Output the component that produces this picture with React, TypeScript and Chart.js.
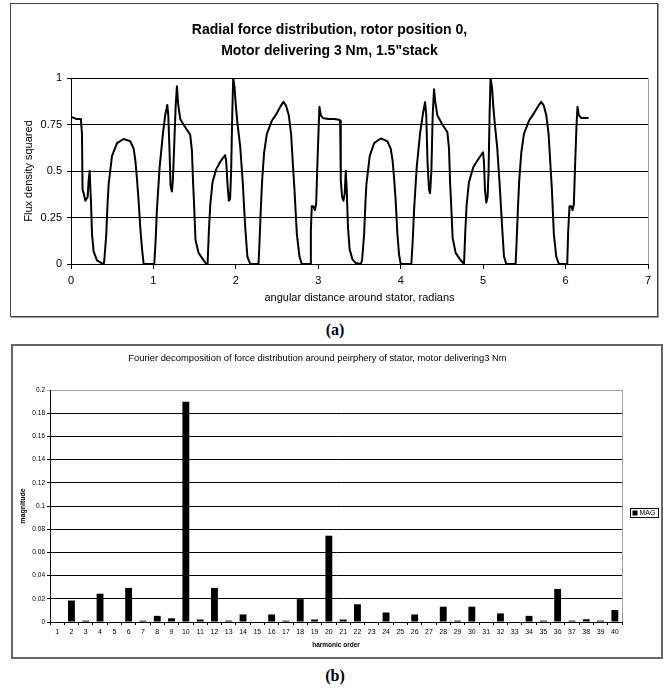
import React, { useEffect, useRef } from "react";
import { Chart, registerables } from "chart.js";

Chart.register(...registerables);

const FONT = "'Liberation Sans', Arial, sans-serif";

// ---- Chart (a): radial force distribution ----
const angle = [
  0, 0.04, 0.06, 0.12, 0.133, 0.14, 0.154, 0.174, 0.202, 0.214, 0.226, 0.242, 0.255, 0.275, 0.315, 0.376, 0.396,
  0.404, 0.428, 0.444, 0.457, 0.497, 0.558, 0.638, 0.719, 0.76, 0.78, 0.8, 0.82, 0.84, 0.86, 0.88, 0.889,
  1.01, 1.026, 1.042, 1.075, 1.115, 1.143, 1.168, 1.18, 1.196, 1.208, 1.224, 1.236, 1.253, 1.27, 1.285, 1.3,
  1.325, 1.386, 1.446, 1.467, 1.48, 1.495, 1.51, 1.547, 1.608, 1.64,
  1.657, 1.673, 1.69, 1.717, 1.762, 1.818, 1.87, 1.883, 1.9, 1.915, 1.93, 1.943, 1.956, 1.968, 1.984, 2.0,
  2.02, 2.053, 2.085, 2.113, 2.14, 2.174,
  2.275, 2.287, 2.303, 2.319, 2.343, 2.376, 2.436, 2.497, 2.545, 2.578, 2.61, 2.642, 2.67, 2.69, 2.711, 2.74,
  2.772, 2.8,
  2.9, 2.91, 2.921, 2.941, 2.958, 2.974, 2.99, 3.006, 3.014, 3.03, 3.055, 3.12, 3.19, 3.253, 3.265,
  3.273, 3.289, 3.305, 3.321, 3.333, 3.345, 3.36, 3.38, 3.414, 3.455, 3.515,
  3.531, 3.556, 3.572, 3.584, 3.624, 3.677, 3.758, 3.838, 3.879, 3.903, 3.923, 3.939, 3.96, 3.98, 4.0,
  4.129, 4.145, 4.162, 4.194, 4.234, 4.267, 4.295, 4.31, 4.325, 4.343, 4.356, 4.372, 4.388, 4.404, 4.42,
  4.444, 4.505, 4.566, 4.586, 4.598, 4.614, 4.63, 4.667, 4.727, 4.768,
  4.784, 4.8, 4.828, 4.88, 4.95, 4.998, 5.01, 5.022, 5.038, 5.054, 5.066, 5.078, 5.09, 5.107, 5.123, 5.14,
  5.17, 5.2, 5.23, 5.253, 5.28,
  5.394, 5.406, 5.422, 5.438, 5.463, 5.495, 5.556, 5.616, 5.669, 5.705, 5.737, 5.766, 5.794, 5.814, 5.834,
  5.858, 5.887, 5.919,
  6.02, 6.032, 6.048, 6.069, 6.085, 6.1, 6.117, 6.133, 6.145, 6.16, 6.19, 6.28,
];
const flux = [
  0.79, 0.785, 0.78, 0.78, 0.7, 0.4, 0.38, 0.34, 0.36, 0.45, 0.5, 0.34, 0.16, 0.066, 0.02, 0.003, 0,
  0.02, 0.16, 0.33, 0.43, 0.58, 0.65, 0.672, 0.66, 0.62, 0.56, 0.46, 0.34, 0.2, 0.09, 0.005, 0,
  0, 0.12, 0.29, 0.52, 0.7, 0.8, 0.855, 0.8, 0.6, 0.42, 0.39, 0.45, 0.65, 0.85, 0.955, 0.86,
  0.78, 0.735, 0.695, 0.61, 0.45, 0.3, 0.13, 0.06, 0.02, 0,
  0, 0.18, 0.32, 0.44, 0.51, 0.555, 0.585, 0.55, 0.42, 0.34, 0.35, 0.5, 0.8, 1.0, 0.95, 0.85,
  0.755, 0.63, 0.43, 0.2, 0.04, 0,
  0, 0.12, 0.3, 0.45, 0.6, 0.7, 0.77, 0.81, 0.85, 0.872, 0.85, 0.8, 0.7, 0.55, 0.4, 0.16,
  0.04, 0,
  0, 0.18, 0.31, 0.31, 0.29, 0.32, 0.55, 0.75, 0.845, 0.8, 0.785, 0.78, 0.78, 0.775, 0.77,
  0.45, 0.36, 0.34, 0.38, 0.5, 0.4, 0.2, 0.08, 0.025, 0.005, 0,
  0.02, 0.16, 0.33, 0.43, 0.58, 0.65, 0.675, 0.66, 0.62, 0.55, 0.44, 0.34, 0.16, 0.05, 0,
  0, 0.12, 0.29, 0.52, 0.7, 0.8, 0.87, 0.8, 0.55, 0.4, 0.38, 0.5, 0.8, 0.94, 0.87,
  0.8, 0.75, 0.71, 0.62, 0.45, 0.3, 0.14, 0.06, 0.02, 0,
  0.18, 0.32, 0.44, 0.52, 0.57, 0.6, 0.55, 0.4, 0.33, 0.36, 0.5, 0.8, 1.0, 0.95, 0.85, 0.76,
  0.63, 0.43, 0.2, 0.04, 0,
  0, 0.12, 0.3, 0.45, 0.6, 0.7, 0.77, 0.81, 0.85, 0.872, 0.85, 0.8, 0.7, 0.55, 0.4,
  0.16, 0.04, 0,
  0, 0.18, 0.31, 0.31, 0.29, 0.32, 0.55, 0.75, 0.845, 0.8, 0.785, 0.785,
];

// ---- Chart (b): Fourier decomposition ----
const harmonicOrder = [
  "1", "2", "3", "4", "5", "6", "7", "8", "9", "10",
  "11", "12", "13", "14", "15", "16", "17", "18", "19", "20",
  "21", "22", "23", "24", "25", "26", "27", "28", "29", "30",
  "31", "32", "33", "34", "35", "36", "37", "38", "39", "40",
];
const magnitude = [
  0, 0.0185, 0.0012, 0.0244, 0, 0.0294, 0.0012, 0.0053, 0.0032, 0.19,
  0.0021, 0.0294, 0.0012, 0.0065, 0, 0.0065, 0.0012, 0.0197, 0.0021, 0.0744,
  0.0021, 0.0153, 0, 0.0082, 0, 0.0065, 0, 0.0132, 0.0012, 0.0132,
  0, 0.0074, 0, 0.0053, 0.0012, 0.0285, 0.0012, 0.0024, 0.0012, 0.0103,
];
const seriesName = "MAG";

const fmt = (v: any) => String(+Number(v).toFixed(4));

const rightFrame = (color: string) => ({
  id: "rightFrame",
  beforeDatasetsDraw(chart: any) {
    const { ctx, chartArea } = chart;
    ctx.save();
    ctx.strokeStyle = color;
    ctx.lineWidth = 1;
    ctx.beginPath();
    const x = Math.round(chartArea.right) + 0.5;
    ctx.moveTo(x, chartArea.top);
    ctx.lineTo(x, chartArea.bottom);
    ctx.stroke();
    ctx.restore();
  },
});

const boxLegend = {
  id: "boxLegend",
  afterDraw(chart: any) {
    const { ctx } = chart;
    const label = chart.data.datasets[0].label;
    const x = 617.5, y = 162.5, w = 28, h = 9;
    ctx.save();
    ctx.fillStyle = "#fff";
    ctx.fillRect(x, y, w, h);
    ctx.strokeStyle = "#000";
    ctx.lineWidth = 1;
    ctx.strokeRect(x, y, w, h);
    ctx.fillStyle = "#000";
    ctx.fillRect(x + 2, y + 2, 5, 5);
    ctx.font = `7px ${FONT}`;
    ctx.textBaseline = "middle";
    ctx.fillText(label, x + 9, y + h / 2 + 0.5);
    ctx.restore();
  },
};

export default function App() {
  const topRef = useRef<HTMLCanvasElement>(null);
  const botRef = useRef<HTMLCanvasElement>(null);

  useEffect(() => {
    const c1 = new Chart(topRef.current as HTMLCanvasElement, {
      type: "line",
      data: {
        datasets: [
          {
            label: "Flux density squared",
            data: angle.map((a, i) => ({ x: a, y: flux[i] })),
            borderColor: "#000",
            borderWidth: 2,
            pointRadius: 0,
            tension: 0,
            fill: false,
            borderJoinStyle: "round",
          },
        ],
      },
      options: {
        responsive: false,
        animation: false,
        layout: { padding: { left: 0, right: 9, top: 0, bottom: 0 } },
        plugins: {
          legend: { display: false },
          tooltip: { enabled: false },
          title: {
            display: true,
            text: ["Radial force distribution, rotor position 0,", 'Motor delivering 3 Nm, 1.5"stack'],
            color: "#000",
            font: { family: FONT, size: 14, weight: "bold", lineHeight: 1.5 },
            padding: { top: 15.5, bottom: 16.5 },
          },
        },
        scales: {
          x: {
            type: "linear",
            min: 0,
            max: 7,
            ticks: { stepSize: 1, color: "#000", font: { family: FONT, size: 11 }, padding: 5, callback: fmt },
            grid: { drawOnChartArea: false, drawTicks: true, tickLength: 5, color: "#000" },
            border: { color: "#000", width: 1 },
            title: {
              display: true,
              text: "angular distance around stator, radians",
              color: "#000",
              font: { family: FONT, size: 11 },
              padding: { top: 0, bottom: 11.7 },
            },
            afterFit: (s: any) => {
              s.height = 52;
            },
          },
          y: {
            type: "linear",
            min: 0,
            max: 1,
            ticks: { stepSize: 0.25, color: "#000", font: { family: FONT, size: 11 }, padding: 5, callback: fmt },
            grid: { color: "#000", tickLength: 4 },
            border: { color: "#000", width: 1 },
            title: {
              display: true,
              text: "Flux density squared",
              color: "#000",
              font: { family: FONT, size: 11 },
              padding: { top: 11.4, bottom: 0 },
            },
            afterFit: (s: any) => {
              s.width = 60;
            },
          },
        },
      } as any,
      plugins: [rightFrame("#a0a0a0")],
    });

    const c2 = new Chart(botRef.current as HTMLCanvasElement, {
      type: "bar",
      data: {
        labels: harmonicOrder,
        datasets: [
          {
            label: seriesName,
            data: magnitude,
            backgroundColor: "#000",
            borderWidth: 0,
            barPercentage: 0.48,
            categoryPercentage: 1,
          },
        ],
      },
      options: {
        responsive: false,
        animation: false,
        layout: { padding: { left: 0, right: 39, top: 0, bottom: 0 } },
        plugins: {
          legend: { display: false },
          tooltip: { enabled: false },
          title: {
            display: true,
            text: "Fourier decomposition of force distribution around peirphery of stator, motor delivering3 Nm",
            color: "#000",
            font: { family: FONT, size: 9.4, weight: "normal", lineHeight: 1.2 },
            padding: { top: 6.35, bottom: 26.4 },
          },
        },
        scales: {
          x: {
            ticks: {
              color: "#000",
              font: { family: FONT, size: 7 },
              padding: 2.8,
              autoSkip: false,
              maxRotation: 0,
              minRotation: 0,
            },
            grid: { offset: true, drawOnChartArea: false, tickLength: 3, color: "#000" },
            border: { color: "#000", width: 1 },
            title: {
              display: true,
              text: "harmonic order",
              color: "#000",
              font: { family: FONT, size: 6.5, weight: "bold" },
              padding: { top: 0, bottom: 8.1 },
            },
            afterFit: (s: any) => {
              s.height = 35;
            },
          },
          y: {
            min: 0,
            max: 0.2,
            ticks: { stepSize: 0.02, color: "#000", font: { family: FONT, size: 6.5 }, padding: 2, callback: fmt },
            grid: {
              color: (ctx: any) => (ctx.index === 10 ? "#a0a0a0" : "#000"),
              tickLength: 3,
            },
            border: { color: "#000", width: 1 },
            title: {
              display: true,
              text: "magnitude",
              color: "#000",
              font: { family: FONT, size: 7, weight: "bold" },
              padding: { top: 5.8, bottom: 0 },
            },
            afterFit: (s: any) => {
              s.width = 37;
            },
          },
        },
      } as any,
      plugins: [rightFrame("#a0a0a0"), boxLegend],
    });

    return () => {
      c1.destroy();
      c2.destroy();
    };
  }, []);

  const caption: React.CSSProperties = {
    position: "absolute",
    left: 0,
    width: 670,
    textAlign: "center",
    fontFamily: "'Liberation Serif', 'Times New Roman', serif",
    fontWeight: "bold",
    fontSize: 16,
    lineHeight: "18px",
    color: "#000",
  };

  return (
    <div style={{ position: "absolute", left: 0, top: 0, width: 670, height: 688, background: "#fff" }}>
      <div
        style={{
          position: "absolute",
          left: 10,
          top: 3,
          width: 648,
          height: 314,
          boxSizing: "border-box",
          border: "1px solid #444",
          boxShadow: "1px 1px 0 #999",
        }}
      >
        <canvas ref={topRef} width={646} height={312} style={{ display: "block", width: 646, height: 312 }} />
      </div>
      <div style={{ ...caption, top: 321 }}>(a)</div>
      <div
        style={{
          position: "absolute",
          left: 11,
          top: 344,
          width: 652,
          height: 315,
          boxSizing: "border-box",
          border: "2px solid #666",
        }}
      >
        <canvas ref={botRef} width={648} height={311} style={{ display: "block", width: 648, height: 311 }} />
      </div>
      <div style={{ ...caption, top: 667 }}>(b)</div>
    </div>
  );
}
